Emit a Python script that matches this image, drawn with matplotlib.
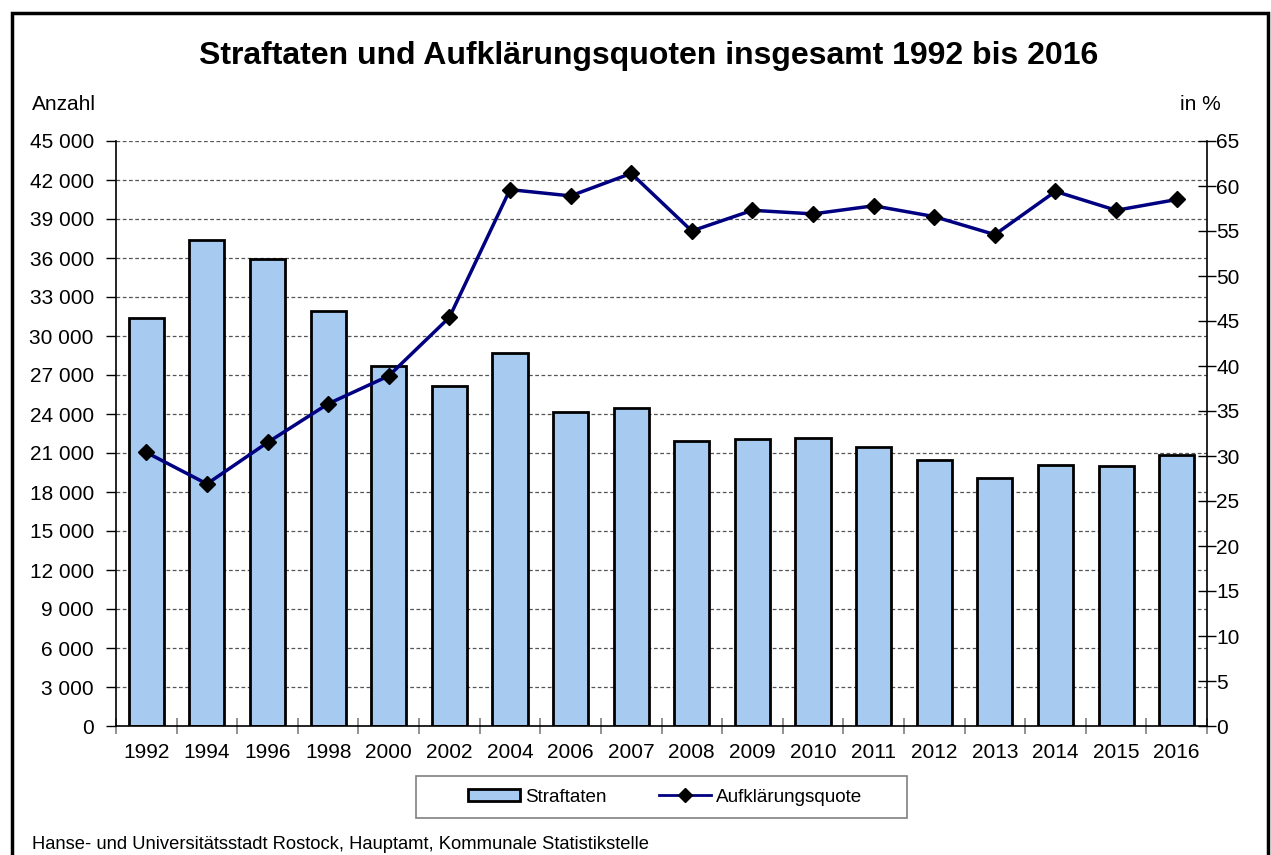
"""Straftaten und Aufklärungsquoten in Rostock, 1992 bis 2016."""

import matplotlib
matplotlib.use("Agg")
import matplotlib.pyplot as plt
import numpy as np
from matplotlib.lines import Line2D
from matplotlib.patches import Patch, Rectangle
from matplotlib.ticker import FuncFormatter

YEARS = ["1992", "1994", "1996", "1998", "2000", "2002", "2004", "2006", "2007",
         "2008", "2009", "2010", "2011", "2012", "2013", "2014", "2015", "2016"]
STRAFTATEN = [31400, 37400, 35900, 31900, 27700, 26150, 28700, 24150, 24450,
              21900, 22050, 22150, 21450, 20450, 19050, 20050, 20000, 20850]
QUOTE = [30.4, 26.9, 31.5, 35.8, 38.9, 45.4, 59.6, 58.9, 61.4,
         55.0, 57.3, 56.9, 57.8, 56.6, 54.6, 59.4, 57.3, 58.5]

BAR_COLOR = "#A6CAF0"
LINE_COLOR = "#000080"
FONT = "Liberation Sans"
W, H = 1271, 855

plt.rcParams["font.family"] = [FONT, "DejaVu Sans"]

fig = plt.figure(figsize=(W / 100, H / 100), dpi=100)
ax = fig.add_axes([116 / W, (H - 726) / H, 1091 / W, 585 / H])

x = np.arange(len(YEARS))
ax.bar(x, STRAFTATEN, width=0.58, color=BAR_COLOR, edgecolor="black",
       linewidth=2, zorder=2)
ax.set_xlim(-0.5, len(YEARS) - 0.5)
ax.set_ylim(0, 45000)
ax.set_yticks(np.arange(0, 45001, 3000))
ax.yaxis.set_major_formatter(
    FuncFormatter(lambda v, _: f"{int(v):,}".replace(",", " ")))
ax.set_xticks(x)
ax.set_xticklabels(YEARS)
ax.set_xticks(np.arange(-0.5, len(YEARS), 1), minor=True)
ax.tick_params(axis="x", which="major", length=0, pad=12, labelsize=15)
ax.tick_params(axis="x", which="minor", length=12, color="#808080", width=1.2,
               direction="inout")
ax.tick_params(axis="y", length=7, width=1, direction="out", labelsize=15,
               pad=9)
ax.grid(axis="y", linestyle=(0, (3, 2)), color="#555555", linewidth=0.9)
ax.set_axisbelow(True)
for side in ("top", "right"):
    ax.spines[side].set_visible(False)
ax.spines["left"].set_linewidth(1.2)
ax.spines["bottom"].set_linewidth(1.2)

ax2 = ax.twinx()
ax2.plot(x, QUOTE, color=LINE_COLOR, linewidth=2.5, marker="D",
         markersize=8, markerfacecolor="black", markeredgecolor="black",
         zorder=3)
ax2.set_ylim(0, 65)
ax2.set_yticks(np.arange(0, 66, 5))
ax2.tick_params(axis="y", direction="inout", length=13, width=1,
                labelsize=15, pad=0)
for side in ("top", "left", "bottom"):
    ax2.spines[side].set_visible(False)
ax2.spines["right"].set_linewidth(1.2)

fig.text(649 / W, 1 - 56 / H, "Straftaten und Aufklärungsquoten insgesamt 1992 bis 2016",
         ha="center", va="center", fontsize=23, fontweight="bold")
fig.text(32 / W, 1 - 104 / H, "Anzahl", ha="left", va="center", fontsize=15)
fig.text(1221 / W, 1 - 104 / H, "in %", ha="right", va="center", fontsize=15)
fig.text(32 / W, 1 - 844 / H,
         "Hanse- und Universitätsstadt Rostock, Hauptamt, Kommunale Statistikstelle",
         ha="left", va="center", fontsize=13.2)

# legend box drawn separately so its size is independent of the entries
fig.patches.append(Rectangle((416 / W, 1 - 818 / H), (907 - 416) / W, 42 / H,
                             transform=fig.transFigure, fill=False,
                             edgecolor="#808080", linewidth=1.2))
handles = [
    Patch(facecolor=BAR_COLOR, edgecolor="black", linewidth=2),
    Line2D([], [], color=LINE_COLOR, linewidth=2, marker="D", markersize=7,
           markerfacecolor="black", markeredgecolor="black"),
]
fig.legend(handles, ["Straftaten", "Aufklärungsquote"], ncol=2,
           loc="center", bbox_to_anchor=(665 / W, 1 - 797 / H),
           fontsize=13.6, frameon=False, handlelength=2.75,
           handleheight=0.6, handletextpad=0.26, columnspacing=2.8)

fig.patches.append(Rectangle((12 / W, -0.01), (1268 - 12) / W, 1.01 - 13 / H,
                             transform=fig.transFigure, fill=False,
                             edgecolor="black", linewidth=2.5))

fig.savefig("out.png", dpi=100)
